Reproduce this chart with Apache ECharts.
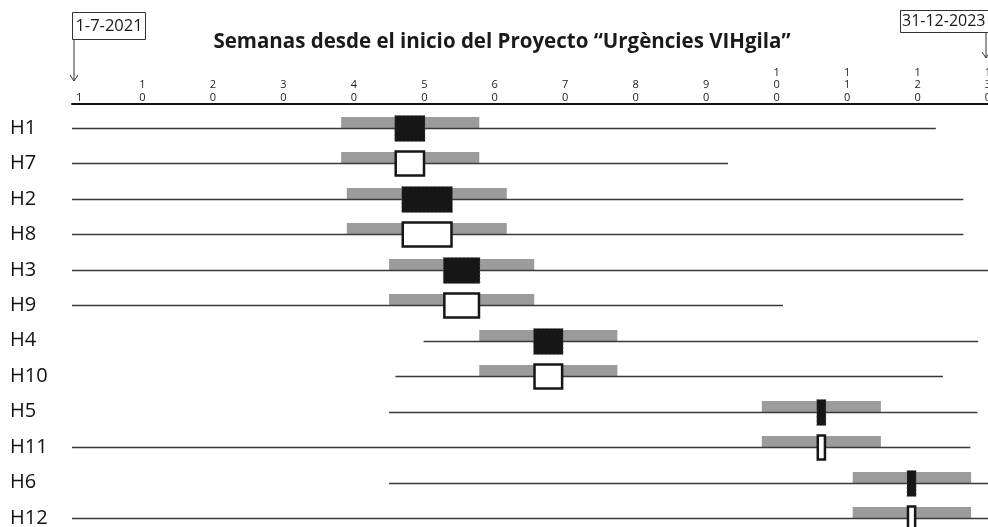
<!DOCTYPE html>
<html>
<head>
<meta charset="utf-8">
<script src="https://cdn.jsdelivr.net/npm/echarts@6/dist/echarts.min.js"></script>
<style>
  html, body { margin: 0; padding: 0; background: #fff; }
  #chart { width: 988px; height: 527px; }
</style>
</head>
<body>
<div id="chart"></div>
<script>
// filas de arriba a abajo
var rows = ['H1', 'H7', 'H2', 'H8', 'H3', 'H9', 'H4', 'H10', 'H5', 'H11', 'H6', 'H12'];
// semanas: línea de seguimiento
var lineStart = [0, 0, 0, 0, 0, 0, 49.9, 45.9, 45, 0, 45, 0];
var lineEnd = [122.6, 93.1, 126.5, 126.5, 130, 100.9, 128.6, 123.6, 128.5, 127.5, 130, 130];
// semanas: rango gris
var rangeStart = [38.2, 38.2, 39, 39, 45, 45, 57.8, 57.8, 97.9, 97.9, 110.8, 110.8];
var rangeEnd = [57.8, 57.8, 61.7, 61.7, 65.6, 65.6, 77.4, 77.4, 114.8, 114.8, 127.6, 127.6];
// semanas: caja
var boxStart = [45.8, 45.8, 46.8, 46.8, 52.7, 52.7, 65.5, 65.5, 105.7, 105.7, 118.5, 118.5];
var boxEnd = [50.1, 50.1, 54, 54, 57.9, 57.9, 69.7, 69.7, 107, 107, 119.8, 119.8];
var filled = [1, 0, 1, 0, 1, 0, 1, 0, 1, 0, 1, 0];
var weekTicks = [1, 10, 20, 30, 40, 50, 60, 70, 80, 90, 100, 110, 120, 130];
var startLabel = '1-7-2021', startWeek = 0;
var endLabel = '31-12-2023', endWeek = 130;

var FONT = '"Open Sans", sans-serif';
var chart = echarts.init(document.getElementById('chart'));

var data = rows.map(function (r, i) {
  return [i, lineStart[i], lineEnd[i], rangeStart[i], rangeEnd[i], boxStart[i], boxEnd[i], filled[i]];
});

function renderItem(params, api) {
  var row = api.value(0);
  var l0 = api.coord([api.value(1), row]);
  var l1 = api.coord([api.value(2), row]);
  var r0 = api.coord([api.value(3), row]);
  var r1 = api.coord([api.value(4), row]);
  var b0 = api.coord([api.value(5), row]);
  var b1 = api.coord([api.value(6), row]);
  var cy = Math.round(l0[1]) + 0.5;
  var isFilled = api.value(7) === 1;
  return {
    type: 'group',
    children: [
      { type: 'rect', shape: { x: r0[0], y: cy - 11.5, width: r1[0] - r0[0], height: 11.5 },
        style: { fill: '#9b9b9b' } },
      { type: 'line', shape: { x1: l0[0], y1: cy, x2: l1[0], y2: cy },
        style: { stroke: '#3a3a3a', lineWidth: 1.5 } },
      isFilled
        ? { type: 'rect', shape: { x: b0[0], y: cy - 13, width: b1[0] - b0[0], height: 26 },
            style: { fill: '#161616', stroke: '#666', lineWidth: 0.6, lineDash: [2, 2] } }
        : { type: 'rect', shape: { x: b0[0] + 1, y: cy - 12, width: b1[0] - b0[0] - 2, height: 24 },
            style: { fill: '#fff', stroke: '#161616', lineWidth: 2.5 } }
    ]
  };
}

chart.setOption({
  animation: false,
  title: {
    text: 'Semanas desde el inicio del Proyecto “Urgències VIHgila”',
    left: 497, top: 27, textAlign: 'center',
    textStyle: { fontFamily: FONT, fontSize: 20.5, fontWeight: 'bold', color: '#1a1a1a' }
  },
  grid: { left: 72, top: 128, width: 916, height: 390, outerBoundsMode: 'none' },
  xAxis: {
    type: 'value', position: 'top', min: 0, max: 130, offset: 24,
    axisLine: { show: true, lineStyle: { color: '#111', width: 2 } },
    axisTick: { show: false },
    splitLine: { show: false },
    axisLabel: {
      customValues: weekTicks,
      formatter: function (v) { return String(v).split('').join('\n'); },
      fontFamily: FONT, fontSize: 11, lineHeight: 12.5, margin: 0, color: '#222'
    }
  },
  yAxis: {
    type: 'category', data: rows, inverse: true, boundaryGap: false,
    axisLine: { show: false }, axisTick: { show: false }, splitLine: { show: false },
    axisLabel: { align: 'left', margin: 62, fontFamily: FONT, fontSize: 20, color: '#111' }
  },
  series: [{
    type: 'custom',
    renderItem: renderItem,
    clip: false,
    encode: { x: [1, 2, 3, 4, 5, 6], y: 0 },
    data: data
  }]
});

// anotaciones de fecha sobre el eje
var xs = chart.convertToPixel({ xAxisIndex: 0 }, startWeek) + 2;
var xe = chart.convertToPixel({ xAxisIndex: 0 }, endWeek) - 2;
chart.setOption({
  graphic: [
    { type: 'rect', shape: { x: xs - 1.5, y: 12.5, width: 73, height: 27 },
      style: { fill: '#fff', stroke: '#333', lineWidth: 1 } },
    { type: 'text', x: xs + 35, y: 26, style: { text: startLabel, fontFamily: FONT, fontSize: 16.5,
      fill: '#1a1a1a', align: 'center', verticalAlign: 'middle' } },
    { type: 'polyline', shape: { points: [[xs, 39.5], [xs, 81]] }, style: { stroke: '#333', lineWidth: 1 } },
    { type: 'polyline', shape: { points: [[xs - 4, 75], [xs, 81], [xs + 4, 75]] },
      style: { stroke: '#333', lineWidth: 1, fill: null } },
    { type: 'rect', shape: { x: 900.5, y: 10.5, width: 92, height: 22 },
      style: { fill: '#fff', stroke: '#333', lineWidth: 1 } },
    { type: 'text', x: 902, y: 21.5, style: { text: endLabel, fontFamily: FONT, fontSize: 16,
      fill: '#1a1a1a', align: 'left', verticalAlign: 'middle' } },
    { type: 'polyline', shape: { points: [[xe, 32.5], [xe, 58]] }, style: { stroke: '#333', lineWidth: 1 } },
    { type: 'polyline', shape: { points: [[xe - 4, 52], [xe, 58], [xe + 4, 52]] },
      style: { stroke: '#333', lineWidth: 1, fill: null } }
  ]
});
</script>
</body>
</html>
